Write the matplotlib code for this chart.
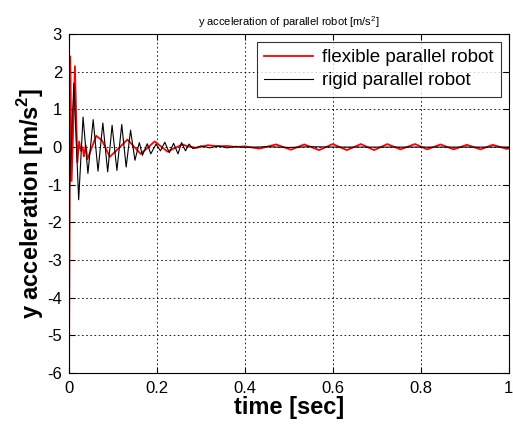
import numpy as np
import matplotlib.pyplot as plt

plt.rcParams['font.family'] = ['Liberation Sans', 'DejaVu Sans']
plt.rcParams['mathtext.fontset'] = 'custom'
plt.rcParams['mathtext.rm'] = 'Liberation Sans'
plt.rcParams['mathtext.bf'] = 'Liberation Sans:bold'
plt.rcParams['axes.unicode_minus'] = False

# ==== Data (peaks / troughs) ====
t_flex = [0.0, 0.003, 0.006, 0.0095, 0.0135, 0.019, 0.023, 0.027, 0.031, 0.034,
          0.038, 0.042, 0.062, 0.075, 0.093, 0.133, 0.163, 0.195, 0.224, 0.258,
          0.27, 0.29, 0.316, 0.34, 0.36, 0.38, 0.40, 0.433, 0.471, 0.505,
          0.535, 0.569, 0.600, 0.632, 0.664, 0.694, 0.724, 0.754, 0.787, 0.815,
          0.845, 0.875, 0.905, 0.936, 0.964, 0.996, 1.0]
a_flex = [-6.0, 2.41, -0.9, 0.5, 2.15, -0.4, 0.15, -0.1, 0.0, -0.25,
          0.05, -0.32, 0.30, 0.18, -0.26, 0.20, -0.18, 0.15, -0.12, 0.07,
          0.02, -0.02, 0.05, 0.02, 0.03, 0.0, 0.02, -0.04, 0.07, -0.07,
          0.07, -0.08, 0.08, -0.08, 0.08, -0.08, 0.08, -0.06, 0.08, -0.06,
          0.07, -0.06, 0.06, -0.06, 0.06, -0.05, -0.04]

t_rigid = [0.0, 0.011, 0.022, 0.032, 0.043, 0.055, 0.066, 0.077, 0.088, 0.098,
           0.109, 0.120, 0.130, 0.140, 0.150, 0.160, 0.167, 0.178, 0.186, 0.198,
           0.208, 0.218, 0.228, 0.238, 0.248, 0.256, 0.265, 0.273, 0.282, 0.30,
           0.32, 0.34, 0.36, 0.38, 0.40, 0.45, 0.50, 0.55, 0.60, 0.70, 0.80,
           0.90, 1.0]
a_rigid = [-1.45, 1.70, -1.40, 0.80, -0.70, 0.73, -0.64, 0.64, -0.66, 0.58,
           -0.62, 0.60, -0.53, 0.45, -0.35, 0.12, -0.22, 0.09, -0.18, 0.08,
           -0.10, 0.13, -0.15, 0.10, -0.18, 0.12, -0.10, 0.08, -0.04, 0.03,
           -0.02, 0.03, -0.02, 0.02, -0.01, 0.01, -0.01, 0.01, 0.0, 0.0, 0.0,
           0.0, 0.0]

x_ticks = [0, 0.2, 0.4, 0.6, 0.8, 1]
y_ticks = [-6, -5, -4, -3, -2, -1, 0, 1, 2, 3]

# ==== Plot ====
fig = plt.figure(figsize=(5.13, 4.28), dpi=100)
ax = fig.add_axes([0.1345, 0.129, 0.857, 0.791])

ax.plot(t_flex, a_flex, color='red', lw=1.3, label='flexible parallel robot')
ax.plot(t_rigid, a_rigid, color='black', lw=0.8, label='rigid parallel robot')

ax.set_xlim(0, 1)
ax.set_ylim(-6, 3)
ax.set_xticks(x_ticks)
ax.set_xticklabels(['0', '0.2', '0.4', '0.6', '0.8', '1'])
ax.set_yticks(y_ticks)
ax.tick_params(direction='in', top=True, right=True, labelsize=12, length=4)
ax.tick_params(axis='x', pad=6)
ax.tick_params(axis='y', pad=5)
ax.grid(True, color='black', linestyle=(0, (2, 3)), linewidth=0.6)

ax.set_title('y acceleration of parallel robot [m/s$^2$]', fontsize=8, pad=6)
ax.set_xlabel('time [sec]', fontsize=17, fontweight='bold', labelpad=0)
ax.set_ylabel('y acceleration [m/s$^\\mathbf{2}$]', fontsize=17, fontweight='bold', labelpad=1)

leg = ax.legend(loc='upper right', fontsize=13.5, frameon=True, fancybox=False,
                borderaxespad=0.4, handlelength=2.6, handletextpad=0.5,
                borderpad=0.4, labelspacing=0.3)
leg.get_frame().set_edgecolor('black')
leg.get_frame().set_linewidth(0.8)

fig.savefig('out.png', dpi=100)
